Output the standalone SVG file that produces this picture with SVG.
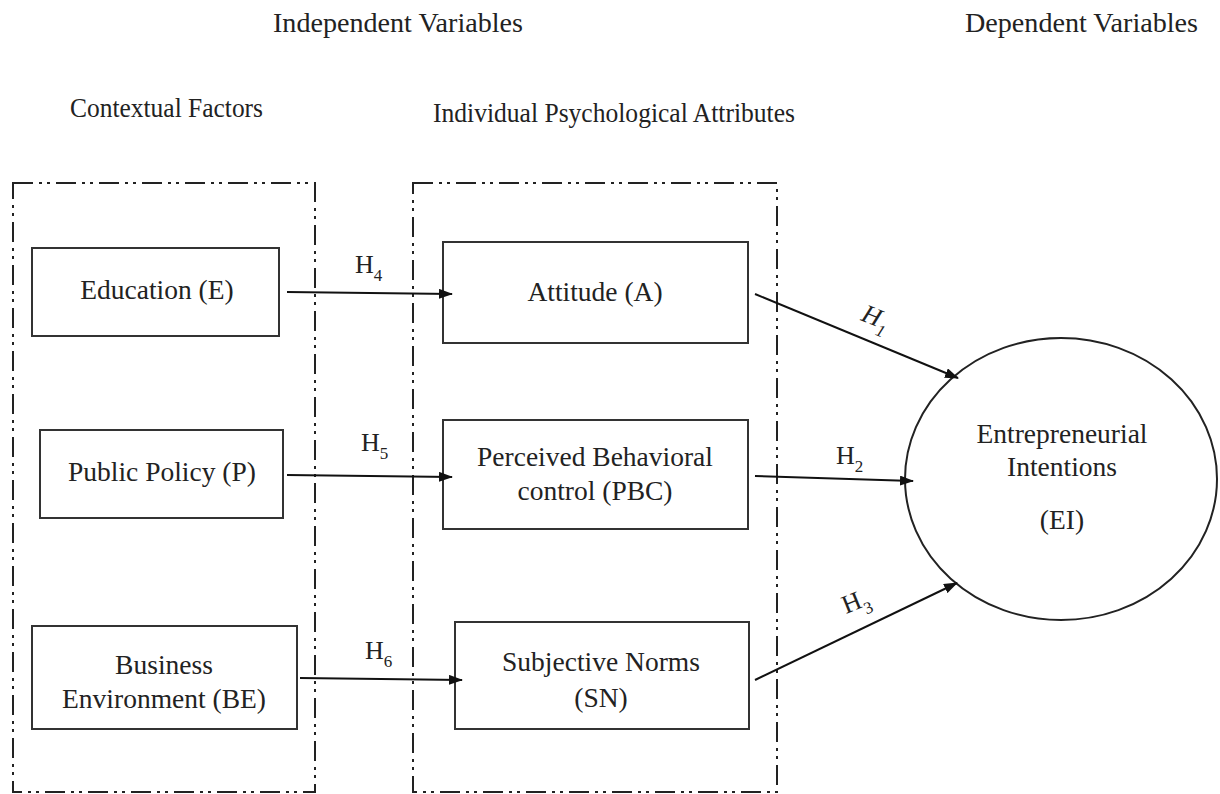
<svg xmlns="http://www.w3.org/2000/svg" width="1220" height="794" viewBox="0 0 1220 794">
  <style>
    text { font-family: "Liberation Serif", "Times New Roman", serif; fill: #222; }
    .hdr { font-size: 27px; }
    .lbl { font-size: 27.5px; text-anchor: middle; }
    .h { font-size: 26px; }
    .sub { font-size: 17px; }
    .box { fill: #fff; stroke: #333; stroke-width: 2; }
    .group { fill: none; stroke: #222; stroke-width: 2; stroke-dasharray: 20 6 3 5 3 6; }
    .edge { fill: none; stroke: #111; stroke-width: 2; marker-end: url(#arrow); }
  </style>
  <defs>
    <marker id="arrow" viewBox="0 0 14 10" refX="13" refY="5" markerWidth="14" markerHeight="10" markerUnits="userSpaceOnUse" orient="auto">
      <path d="M0,0 L14,5 L0,10 Z" fill="#111"/>
    </marker>
  </defs>
  <rect width="1220" height="794" fill="#fff"/>

  <!-- headings -->
  <g id="headings">
    <text class="hdr" x="273" y="32" textLength="250" lengthAdjust="spacingAndGlyphs">Independent Variables</text>
    <text class="hdr" x="965" y="32" textLength="233" lengthAdjust="spacingAndGlyphs">Dependent Variables</text>
    <text class="hdr" x="70" y="117" textLength="193" lengthAdjust="spacingAndGlyphs">Contextual Factors</text>
    <text class="hdr" x="433" y="122" textLength="362" lengthAdjust="spacingAndGlyphs">Individual Psychological Attributes</text>
  </g>

  <!-- dash-dot-dot group frames -->
  <g id="frames">
    <rect id="contextual-frame" class="group" x="13" y="183" width="302" height="609"/>
    <rect id="psychological-frame" class="group" x="413" y="183" width="364" height="609"/>
  </g>

  <!-- contextual factors -->
  <g id="node-education">
    <rect class="box" x="32" y="248" width="247" height="88"/>
    <text class="lbl" x="157" y="299">Education (E)</text>
  </g>
  <g id="node-public-policy">
    <rect class="box" x="40" y="430" width="243" height="88"/>
    <text class="lbl" x="162" y="481">Public Policy (P)</text>
  </g>
  <g id="node-business-environment">
    <rect class="box" x="32" y="626" width="265" height="103"/>
    <text class="lbl" x="164" y="674">Business</text>
    <text class="lbl" x="164" y="708">Environment (BE)</text>
  </g>

  <!-- individual psychological attributes -->
  <g id="node-attitude">
    <rect class="box" x="443" y="242" width="305" height="101"/>
    <text class="lbl" x="595" y="301">Attitude (A)</text>
  </g>
  <g id="node-pbc">
    <rect class="box" x="443" y="420" width="305" height="109"/>
    <text class="lbl" x="595" y="466">Perceived Behavioral</text>
    <text class="lbl" x="595" y="500">control (PBC)</text>
  </g>
  <g id="node-subjective-norms">
    <rect class="box" x="455" y="622" width="294" height="107"/>
    <text class="lbl" x="601" y="671">Subjective Norms</text>
    <text class="lbl" x="601" y="707">(SN)</text>
  </g>

  <!-- dependent variable -->
  <g id="node-intentions">
    <ellipse cx="1061" cy="479" rx="156" ry="141" fill="#fff" stroke="#222" stroke-width="2"/>
    <text class="lbl" x="1062" y="443">Entrepreneurial</text>
    <text class="lbl" x="1062" y="476">Intentions</text>
    <text class="lbl" x="1062" y="529">(EI)</text>
  </g>

  <!-- hypothesised paths -->
  <g id="connectors">
    <line class="edge" x1="287" y1="292" x2="452" y2="294"/>
    <line class="edge" x1="287" y1="475" x2="452" y2="477"/>
    <line class="edge" x1="300" y1="678" x2="462" y2="680"/>
    <line class="edge" x1="755" y1="294" x2="958" y2="378"/>
    <line class="edge" x1="755" y1="476" x2="913" y2="481"/>
    <line class="edge" x1="755" y1="680" x2="957" y2="583"/>
  </g>

  <!-- path labels -->
  <g id="labels">
    <text class="h" x="355" y="273">H<tspan class="sub" dy="8">4</tspan></text>
    <text class="h" x="361" y="451">H<tspan class="sub" dy="8">5</tspan></text>
    <text class="h" x="365" y="659">H<tspan class="sub" dy="8">6</tspan></text>
    <text class="h" x="836" y="464">H<tspan class="sub" dy="8">2</tspan></text>
    <text class="h" transform="translate(860 320) rotate(22)" font-style="italic">H<tspan class="sub" dy="8">1</tspan></text>
    <text class="h" transform="translate(846 614) rotate(-22)">H<tspan class="sub" dy="8">3</tspan></text>
  </g>
</svg>
